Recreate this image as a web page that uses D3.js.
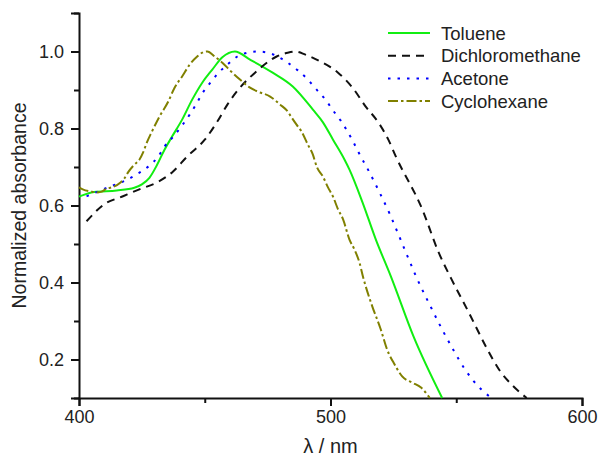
<!DOCTYPE html>
<html>
<head>
<meta charset="utf-8">
<script src="https://cdn.jsdelivr.net/npm/d3@7"></script>
<style>
  body { margin: 0; background: #fff; }
  text { font-family: "Liberation Sans", Arial, sans-serif; fill: #222; }
</style>
</head>
<body>
<svg id="chart"></svg>
<script>
// wavelength (nm) and normalized absorbance
var tolueneNm  = [400, 406, 415, 422, 425, 428, 431, 434, 437, 441, 445, 449, 453, 457, 462, 468, 477, 485, 493, 497, 501, 505.6, 507.5, 512.8, 518, 524, 533, 544.4];
var tolueneAbs = [0.623, 0.635, 0.639, 0.646, 0.655, 0.672, 0.705, 0.745, 0.779, 0.823, 0.875, 0.919, 0.953, 0.985, 1.0, 0.979, 0.945, 0.909, 0.849, 0.816, 0.771, 0.719, 0.694, 0.607, 0.512, 0.416, 0.260, 0.1];

var dcmNm  = [403, 410, 417.5, 424, 431, 437, 443, 450, 455, 459, 464, 470, 478.6, 483, 486, 490, 496, 503, 509, 514, 519, 523, 526, 536.5, 543, 548, 555, 562, 567, 572, 578];
var dcmAbs = [0.559, 0.603, 0.624, 0.642, 0.660, 0.686, 0.727, 0.771, 0.818, 0.862, 0.906, 0.945, 0.987, 0.997, 1.0, 0.992, 0.974, 0.945, 0.904, 0.857, 0.816, 0.771, 0.727, 0.590, 0.478, 0.410, 0.322, 0.231, 0.174, 0.135, 0.1];

var acetoneNm  = [403, 407.5, 411.5, 415.5, 419.5, 423.5, 427.5, 431.5, 434, 437.5, 441, 444, 446.5, 449, 452, 455.5, 459, 463, 467, 471, 475, 479, 483, 487, 491, 494.5, 498, 501, 504, 506.5, 509, 511, 515.5, 519.5, 523.5, 527, 530.5, 534, 540, 544, 548.5, 553.5, 560, 564];
var acetoneAbs = [0.624, 0.636, 0.647, 0.657, 0.668, 0.683, 0.701, 0.727, 0.753, 0.779, 0.808, 0.836, 0.862, 0.891, 0.917, 0.945, 0.966, 0.987, 0.997, 1.0, 0.997, 0.987, 0.971, 0.951, 0.927, 0.901, 0.875, 0.847, 0.821, 0.795, 0.766, 0.740, 0.686, 0.634, 0.579, 0.525, 0.470, 0.416, 0.335, 0.283, 0.229, 0.174, 0.122, 0.1];

var cyclohexNm  = [400, 401.5, 405, 407.5, 409, 411, 413, 416.5, 418, 419.5, 422, 424, 425.5, 427, 429, 432, 435.5, 438, 441, 444, 447, 449, 451, 454, 457, 460.5, 464, 468, 471, 476, 480, 483, 484.5, 486.5, 488.5, 491, 493, 494.5, 497, 499, 501, 503, 505, 507.5, 509.5, 511.5, 513, 516.5, 520, 522.5, 525.5, 528.5, 532.5, 536, 539.5];
var cyclohexAbs = [0.647, 0.642, 0.636, 0.634, 0.636, 0.644, 0.647, 0.660, 0.670, 0.686, 0.706, 0.719, 0.738, 0.764, 0.792, 0.831, 0.870, 0.906, 0.935, 0.966, 0.987, 0.997, 1.0, 0.987, 0.971, 0.948, 0.927, 0.906, 0.896, 0.883, 0.862, 0.844, 0.829, 0.810, 0.792, 0.758, 0.732, 0.701, 0.675, 0.647, 0.623, 0.590, 0.564, 0.512, 0.486, 0.452, 0.413, 0.340, 0.278, 0.226, 0.187, 0.156, 0.140, 0.127, 0.1];

var seriesNames = ["Toluene", "Dichloromethane", "Acetone", "Cyclohexane"];
var xMajorTicks = [400, 500, 600];
var xMinorTicks = [450, 550];
var yMajorTicks = [0.2, 0.4, 0.6, 0.8, 1.0];
var yMinorTicks = [0.1, 0.3, 0.5, 0.7, 0.9, 1.1];

var margin = {top: 13, right: 16, bottom: 58, left: 79},
    width = 598 - margin.left - margin.right,
    height = 456 - margin.top - margin.bottom;

var svg = d3.select("#chart")
    .attr("width", 598)
    .attr("height", 456)
  .append("g")
    .attr("transform", "translate(" + margin.left + "," + margin.top + ")");

var x = d3.scaleLinear().domain([400, 600]).range([0, width]);
var y = d3.scaleLinear().domain([0.1, 1.1]).range([height, 0]);

// axes: major ticks with labels, minor ticks without
svg.append("g")
    .attr("transform", "translate(0," + height + ")")
    .call(d3.axisBottom(x).tickValues(xMajorTicks).tickSize(8).tickPadding(4).tickFormat(d3.format("d")));
svg.append("g")
    .attr("transform", "translate(0," + height + ")")
    .call(d3.axisBottom(x).tickValues(xMinorTicks).tickSize(5).tickFormat(""))
    .select(".domain").remove();

svg.append("g")
    .call(d3.axisLeft(y).tickValues(yMajorTicks).tickSize(8).tickPadding(7).tickFormat(d3.format(".1f")));
svg.append("g")
    .call(d3.axisLeft(y).tickValues(yMinorTicks).tickSize(5).tickFormat(""))
    .select(".domain").remove();

svg.selectAll(".domain").attr("stroke", "#111").attr("stroke-width", 2);
svg.selectAll(".tick line").attr("stroke", "#111").attr("stroke-width", 2);
svg.selectAll(".tick text").style("font-size", "18px").style("fill", "#222");

// axis titles
svg.append("text")
    .attr("x", x(500))
    .attr("y", height + 55)
    .attr("text-anchor", "middle")
    .style("font-size", "20px")
    .text("λ / nm");

svg.append("text")
    .attr("transform", "rotate(-90)")
    .attr("x", -height / 2)
    .attr("y", -53)
    .attr("text-anchor", "middle")
    .style("font-size", "19.5px")
    .text("Normalized absorbance");

var styles = [
    {color: "#11ee11", dash: null},
    {color: "#111111", dash: "8,6"},
    {color: "#0000ff", dash: "2.5,7"},
    {color: "#808000", dash: "10,3,2.5,3"}
];

var seriesData = [
    d3.zip(tolueneNm, tolueneAbs),
    d3.zip(dcmNm, dcmAbs),
    d3.zip(acetoneNm, acetoneAbs),
    d3.zip(cyclohexNm, cyclohexAbs)
];

var line = d3.line()
    .x(function(d) { return x(d[0]); })
    .y(function(d) { return y(d[1]); })
    .curve(d3.curveMonotoneX);

svg.append("g")
  .selectAll("path")
    .data(seriesData)
    .enter()
    .append("path")
      .attr("d", line)
      .attr("fill", "none")
      .attr("stroke", function(d, i) { return styles[i].color; })
      .attr("stroke-width", 2)
      .attr("stroke-dasharray", function(d, i) { return styles[i].dash; });

// legend
var legend = svg.append("g")
    .attr("transform", "translate(" + (388 - margin.left) + "," + (33 - margin.top) + ")");

var rows = legend.selectAll("g")
    .data(seriesNames)
    .enter()
    .append("g")
      .attr("transform", function(d, i) { return "translate(0," + (i * 22.7) + ")"; });

rows.append("line")
    .attr("x1", 0).attr("x2", 42)
    .attr("y1", 0).attr("y2", 0)
    .attr("stroke", function(d, i) { return styles[i].color; })
    .attr("stroke-width", 2)
    .attr("stroke-dasharray", function(d, i) { return styles[i].dash; });

rows.append("text")
    .attr("x", 53)
    .attr("dy", "0.36em")
    .style("font-size", "18.5px")
    .text(function(d) { return d; });
</script>
</body>
</html>
